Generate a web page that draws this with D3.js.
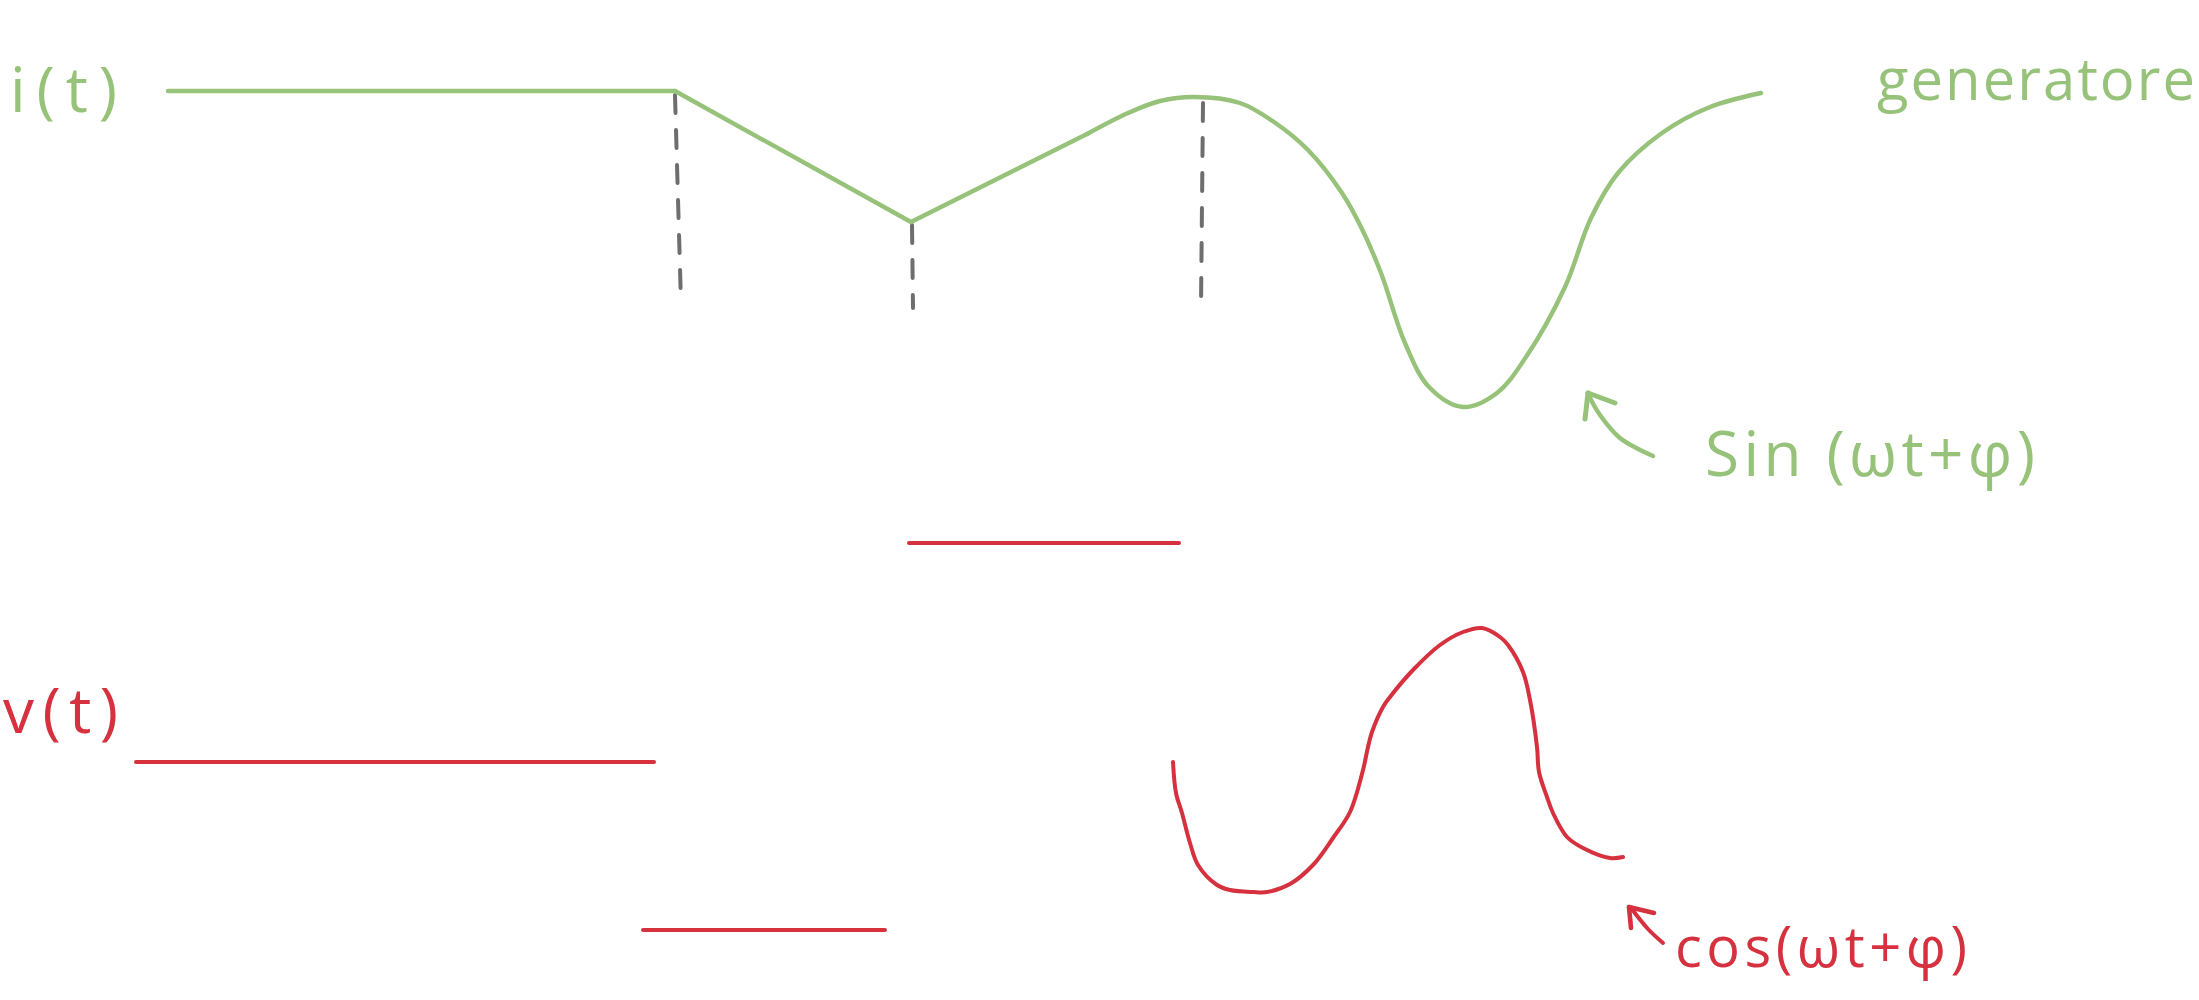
<!DOCTYPE html>
<html>
<head>
<meta charset="utf-8">
<script src="https://cdn.jsdelivr.net/npm/d3@7/dist/d3.min.js"></script>
<style>
  html, body { margin: 0; padding: 0; background: #ffffff; }
  svg { display: block; }
  text { font-family: "Open Sans", "DejaVu Sans", sans-serif; }
</style>
</head>
<body>
<svg id="chart"></svg>
<script>
// ---- data (in reference sketch units: t across, level down) ----
const currentFlat = [[168, 91], [675, 91]];
const currentRamp = [[675, 91], [911, 222], [1087, 134]];
const currentSine = [
  [1087, 134], [1128, 113], [1160, 101], [1194, 97], [1240, 103], [1274, 122],
  [1308, 150], [1342, 193], [1361, 227], [1381, 273], [1405, 343], [1429, 387],
  [1463, 407], [1497, 393], [1526, 357], [1565, 287], [1591, 218], [1618, 173],
  [1662, 133], [1710, 107], [1761, 93]
];
const guideLines = [
  [[675, 95], [681, 303]],
  [[912, 225], [913, 308]],
  [[1203, 103], [1201, 307]]
];
const voltageSegments = [
  [[136, 762], [654, 762]],
  [[909, 543], [1179, 543]],
  [[643, 930], [885, 930]]
];
const voltageCos = [
  [1173, 762], [1176, 793], [1182, 813], [1190, 843], [1198, 865], [1217, 885],
  [1230, 890], [1253, 892], [1267, 892], [1290, 884], [1313, 865], [1333, 838],
  [1350, 812], [1363, 770], [1368, 747], [1372, 732], [1383, 707], [1390, 697],
  [1413, 670], [1440, 645], [1463, 632], [1482, 628], [1500, 637], [1508, 645],
  [1523, 672], [1530, 700], [1537, 747], [1539, 772], [1547, 797], [1553, 813],
  [1567, 837], [1583, 848], [1610, 858], [1623, 857]
];
const sinArrowShaft = [[1653, 456], [1620, 438], [1600, 415], [1589, 396]];
const sinArrowHead = [[[1588, 393], [1615, 403]], [[1588, 393], [1585, 419]]];
const cosArrowShaft = [[1663, 943], [1648, 929], [1631, 908]];
const cosArrowHead = [[[1629, 907], [1654, 913]], [[1629, 907], [1631, 928]]];

const labels = [
  { text: "i(t)", t: 10, v: 112, size: 62, len: 107, color: "green" },
  { text: "generatore", t: 1877, v: 100, size: 58, len: 318, color: "green" },
  { text: "Sin (ωt+φ)", t: 1705, v: 476, size: 62, len: 330, color: "green" },
  { text: "v(t)", t: 3, v: 733, size: 62, len: 115, color: "red" },
  { text: "cos(ωt+φ)", t: 1675, v: 967, size: 56, len: 292, color: "red" }
];

// ---- setup ----
const W = 2199, H = 1000;
const colors = { green: "#97c27a", red: "#d6313f", gray: "#6e6e6e" };

const svg = d3.select("#chart").attr("width", W).attr("height", H);
const x = d3.scaleLinear().domain([0, 2199]).range([0, W]);
const y = d3.scaleLinear().domain([0, 1000]).range([0, H]);

const straight = d3.line().x(d => x(d[0])).y(d => y(d[1]));
const smooth = d3.line().x(d => x(d[0])).y(d => y(d[1])).curve(d3.curveCatmullRom.alpha(0.5));

function stroke(sel, color, w) {
  return sel.attr("fill", "none").attr("stroke", colors[color])
    .attr("stroke-width", w).attr("stroke-linecap", "round").attr("stroke-linejoin", "round");
}

// dashed guides
svg.append("g").selectAll("path").data(guideLines).join("path")
  .attr("d", straight)
  .call(stroke, "gray", 4)
  .attr("stroke-dasharray", "18 17");

// current (green)
const gw = 4.4;
stroke(svg.append("path").attr("d", straight(currentFlat)), "green", gw);
stroke(svg.append("path").attr("d", straight(currentRamp)), "green", gw);
stroke(svg.append("path").attr("d", smooth(currentSine)), "green", gw);
stroke(svg.append("path").attr("d", smooth(sinArrowShaft)), "green", gw);
svg.append("g").selectAll("path").data(sinArrowHead).join("path")
  .attr("d", straight).call(stroke, "green", gw + 0.6);

// voltage (red)
const rw = 4;
svg.append("g").selectAll("path").data(voltageSegments).join("path")
  .attr("d", straight).call(stroke, "red", rw);
stroke(svg.append("path").attr("d", smooth(voltageCos)), "red", rw);
stroke(svg.append("path").attr("d", smooth(cosArrowShaft)), "red", rw);
svg.append("g").selectAll("path").data(cosArrowHead).join("path")
  .attr("d", straight).call(stroke, "red", rw + 0.6);

// labels
svg.append("g").selectAll("text").data(labels).join("text")
  .attr("x", d => x(d.t))
  .attr("y", d => y(d.v))
  .attr("font-size", d => d.size)
  .attr("font-weight", 400)
  .attr("fill", d => colors[d.color])
  .attr("textLength", d => d.len)
  .attr("lengthAdjust", "spacing")
  .text(d => d.text);
</script>
</body>
</html>
